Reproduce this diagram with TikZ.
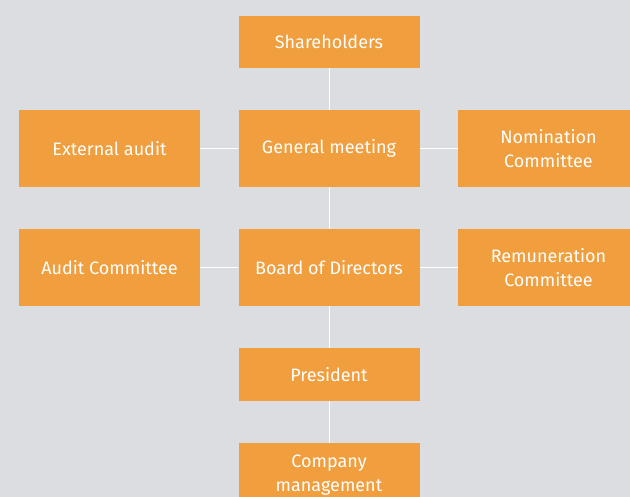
\documentclass[tikz,border=0pt]{standalone}
\usepackage{fontspec}
\setmainfont{Fira Sans}
\definecolor{bgray}{HTML}{DCDDE1}
\definecolor{borange}{HTML}{F09E3E}
\begin{document}
\begin{tikzpicture}[x=1pt,y=-1pt,
	box/.style={fill=borange, text=white, minimum width=181pt, minimum height=77pt, inner sep=0pt, align=center, font=\fontsize{18}{24}\selectfont},
	link/.style={white, line width=1pt}]
	\fill [bgray] (0,0) rectangle (630,497);
	\useasboundingbox (0,0) rectangle (630,497);
	\clip (0,0) rectangle (630,497);
	\node [box, minimum height=52pt] (share) at (329,42) {Shareholders};
	\node [box] (gm) at (329,148.5) {General meeting};
	\node [box] (ext) at (109.5,148.5) {External audit};
	\node [box] (nom) at (548.5,148.5) {Nomination\\Committee};
	\node [box] (board) at (329,267.5) {Board of Directors};
	\node [box] (audit) at (109.5,267.5) {Audit Committee};
	\node [box] (rem) at (548.5,267.5) {Remuneration\\Committee};
	\node [box, minimum height=53pt] (pres) at (329,374.5) {President};
	\node [box, minimum height=64pt] (mgmt) at (329,475) {Company\\management};
	\draw [link] (share) -- (gm);
	\draw [link] (gm) -- (board);
	\draw [link] (board) -- (pres);
	\draw [link] (pres) -- (mgmt);
	\draw [link] (ext) -- (gm);
	\draw [link] (gm) -- (nom);
	\draw [link] (audit) -- (board);
	\draw [link] (board) -- (rem);
\end{tikzpicture}
\end{document}
